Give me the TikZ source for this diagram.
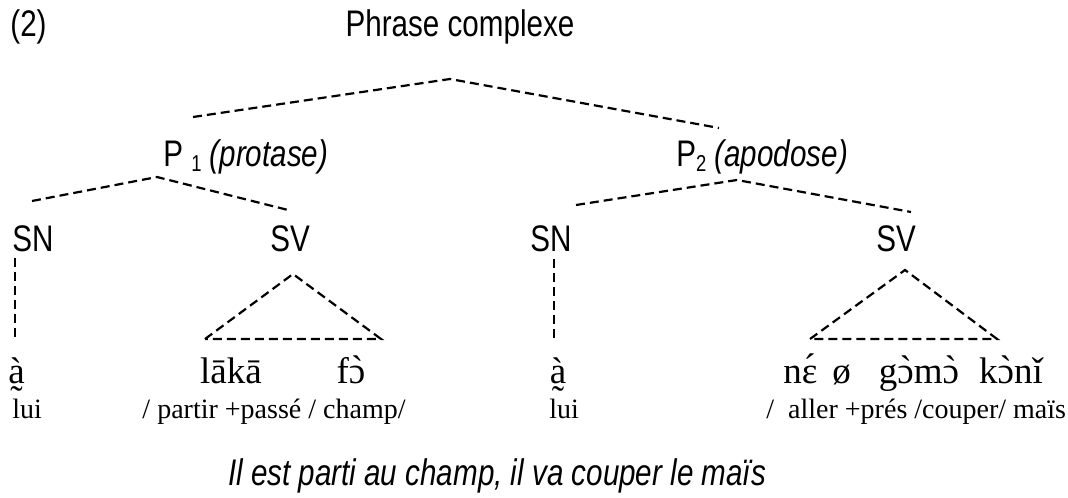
\documentclass[tikz,border=0pt]{standalone}
\usepackage{fontspec}
\setmainfont{Liberation Serif}
\newfontfamily\narrowsans[FakeStretch=0.8]{Liberation Sans}
\usetikzlibrary{calc}
\newcommand{\catfont}{\narrowsans\fontsize{18.5}{22}\selectfont}
\newcommand{\ipafont}{\fontsize{18.5}{22}\selectfont}
\newcommand{\glfont}{\fontsize{14}{17}\selectfont}
\newcommand{\subnum}[1]{\raisebox{-2pt}{\fontsize{11.5}{13}\selectfont #1}}
\newcommand{\grv}[1]{\ooalign{#1\cr\hidewidth\raisebox{0.05em}{\char"2CB}\hidewidth\cr}}
\newcommand{\aig}[1]{\ooalign{#1\cr\hidewidth\raisebox{0.1em}{\char"B4}\hidewidth\cr}}
\newcommand{\tlb}[1]{\ooalign{#1\cr\hidewidth\raisebox{-0.78em}{\char"2DC}\hidewidth\cr}}
\tikzset{branch/.style={line width=1.1pt,dash pattern=on 4.5pt off 2.5pt},
cat/.style={font=\catfont,anchor=base,inner sep=0pt},
ipa/.style={font=\ipafont,anchor=base,inner sep=0pt},
gloss/.style={font=\glfont,anchor=base,inner sep=0pt}}

\begin{document}
\begin{tikzpicture}[x=0.5pt,y=-0.5pt]
\useasboundingbox (0,0) rectangle (1068,497);
% labels of the tree
\node[cat,anchor=base west] (num) at (10,37) {(2)};
\node[cat] (root) at (460,37) {Phrase complexe};
\node[cat,anchor=base west] (p1) at (163,167) {P \subnum{1} \textit{(protase)}};
\node[cat,anchor=base west] (p2) at (676,167) {P\subnum{2} \textit{(apodose)}};
\node[cat,anchor=base west] (sn1) at (12,251) {SN};
\node[cat] (sv1) at (290,251) {SV};
\node[cat] (sn2) at (551,251) {SN};
\node[cat] (sv2) at (896,251) {SV};
% branch ends
\coordinate (root top) at (450,79);
\coordinate (root l) at (193,117);
\coordinate (root r) at (719,128);
\coordinate (p1 top) at (157,177);
\coordinate (p1 l) at (32,201);
\coordinate (p1 r) at (288,210);
\coordinate (p2 top) at (737,180);
\coordinate (p2 l) at (576,205);
\coordinate (p2 r) at (911,212);
\coordinate (sn1 top) at (15,258);
\coordinate (sn1 bot) at (15,337);
\coordinate (sn2 top) at (554,259);
\coordinate (sn2 bot) at (554,343);
\coordinate (sv1 top) at (293,274);
\coordinate (sv1 l) at (205,339);
\coordinate (sv1 r) at (381,339);
\coordinate (sv2 top) at (905,270);
\coordinate (sv2 l) at (810,339);
\coordinate (sv2 r) at (997,339);
\draw[branch] (root l) -- (root top) -- (root r);
\draw[branch] (p1 l) -- (p1 top) -- (p1 r);
\draw[branch] (p2 l) -- (p2 top) -- (p2 r);
\draw[branch] (sn1 top) -- (sn1 bot);
\draw[branch] (sn2 top) -- (sn2 bot);
\draw[branch] (sv1 l) -- (sv1 top) -- (sv1 r) -- cycle;
\draw[branch] (sv2 l) -- (sv2 top) -- (sv2 r) -- cycle;
% words
\node[ipa,anchor=base west] (a1) at (8,383) {\tlb{à}};
\node[ipa] (laka) at (231,383) {lākā};
\node[ipa] (fo) at (351,383) {f\grv{ɔ}};
\node[ipa] (a2) at (558,383) {\tlb{à}};
\node[ipa,anchor=base west] (ne) at (783,383) {n\aig{ɛ}\hspace{7.5pt}ø\hspace{14pt}g\grv{ɔ}m\grv{ɔ}\hspace{10pt}k\grv{ɔ}nǐ};
% glosses
\node[gloss,anchor=base west] (lui1) at (12,418) {lui};
\node[gloss] (gl1) at (274,418) {/ partir +passé / champ/};
\node[gloss,anchor=base west] (lui2) at (549,418) {lui};
\node[gloss,anchor=base west] (gl2) at (766,418) {/\hspace{7pt}aller +prés /couper/ maïs};
\node[cat] (trans) at (497,485) {\textit{Il est parti au champ, il va couper le maïs}};
\end{tikzpicture}
\end{document}
